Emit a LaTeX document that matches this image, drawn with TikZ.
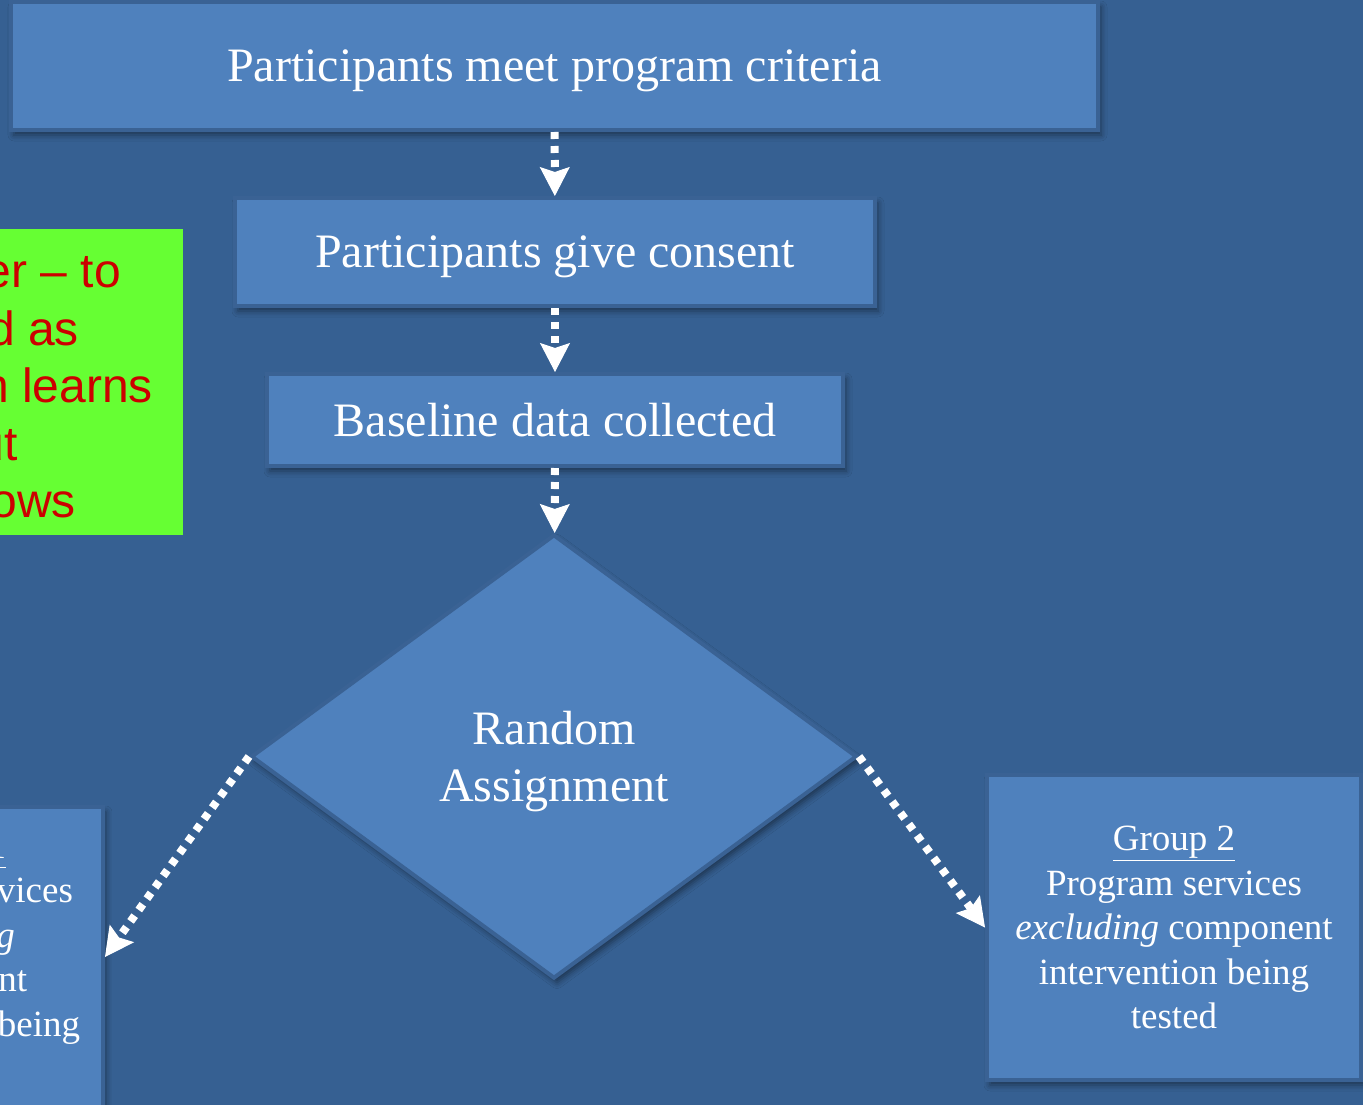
\documentclass[tikz,border=0pt]{standalone}
\usepackage{fontspec}
\setmainfont{Liberation Serif}
\newfontfamily\notefont{Liberation Sans}
\usepackage{tikz}
\usetikzlibrary{positioning}
\usetikzlibrary{arrows.meta}
\usetikzlibrary{shapes.geometric}
\usetikzlibrary{shadows.blur}
\definecolor{slidebg}{RGB}{54,96,146}
\definecolor{boxfill}{HTML}{4F81BD}
\definecolor{boxline}{HTML}{3A6294}
\definecolor{notegreen}{HTML}{66FF33}
\definecolor{notered}{HTML}{CC0000}
\tikzset {
  % blue flowchart boxes
  stage/.style = {draw=boxline, fill=boxfill, line width=4pt, text=white,
    font=\fontsize{48}{57}\selectfont, text depth=0pt,
    blur shadow={shadow xshift=3pt, shadow yshift=-5pt, shadow blur radius=6pt, shadow opacity=45}},
  % the two group boxes at the bottom
  group/.style = {stage, font=\fontsize{37}{44.5}\selectfont, align=center},
  % random assignment
  decision/.style = {stage, diamond, align=center, inner sep=0pt},
  % dotted white connectors
  flow/.style = {white, line width=8pt, dash pattern=on 7pt off 7pt,
    -{Stealth[length=29pt, width=30pt, inset=5pt, line width=1pt]}},
  % green sticky note on the left
  note/.style = {fill=notegreen, minimum width=600pt, minimum height=306pt},
  notetext/.style = {anchor=base east, inner sep=0pt, text=notered,
    font=\notefont\fontsize{48}{57.5}\selectfont},
}
\begin{document}
\begin{tikzpicture}[x=1pt, y=-1pt]
      \fill [slidebg] (0,0) rectangle (1363,1105);
      \useasboundingbox (0,0) rectangle (1363,1105);

      \node[note] (note) at (-117, 382) {};
      \node[notetext] (noteA) at (121, 287) {er – to};
      \node[notetext] (noteB) at (79, 345) {d as};
      \node[notetext] (noteC) at (153, 402) {n learns};
      \node[notetext] (noteD) at (18, 460) {ut};
      \node[notetext] (noteE) at (76, 517) {ows};

      \node[stage, minimum width=1087pt, minimum height=128pt] (criteria) at (554.5, 66) {Participants meet program criteria};
      \node[stage, minimum width=640pt, minimum height=108pt] (consent) at (555, 252) {Participants give consent};
      \node[stage, minimum width=576pt, minimum height=92pt] (baseline) at (555, 420) {Baseline data collected};
      \node[decision, minimum width=606pt, minimum height=444pt] (assign) at (554, 756.5) {Random\\Assignment};

      \node[group, minimum width=316pt, minimum height=300pt] (group1) at (-55, 957)
        {\underline{Group 1}\\Program services\\\textit{including}\\component\\intervention being\\tested};
      \node[group, minimum width=374pt, minimum height=305pt] (group2) at (1174, 927.5)
        {\underline{Group 2}\\Program services\\\textit{excluding} component\\intervention being\\tested};

      \draw [flow] (criteria) -- (consent);
      \draw [flow] (consent) -- (baseline);
      \draw [flow] (baseline) -- (assign);
      \draw [flow] (assign.west) -- (group1.east);
      \draw [flow] (assign.east) -- (group2.west);
    \end{tikzpicture}
\end{document}
